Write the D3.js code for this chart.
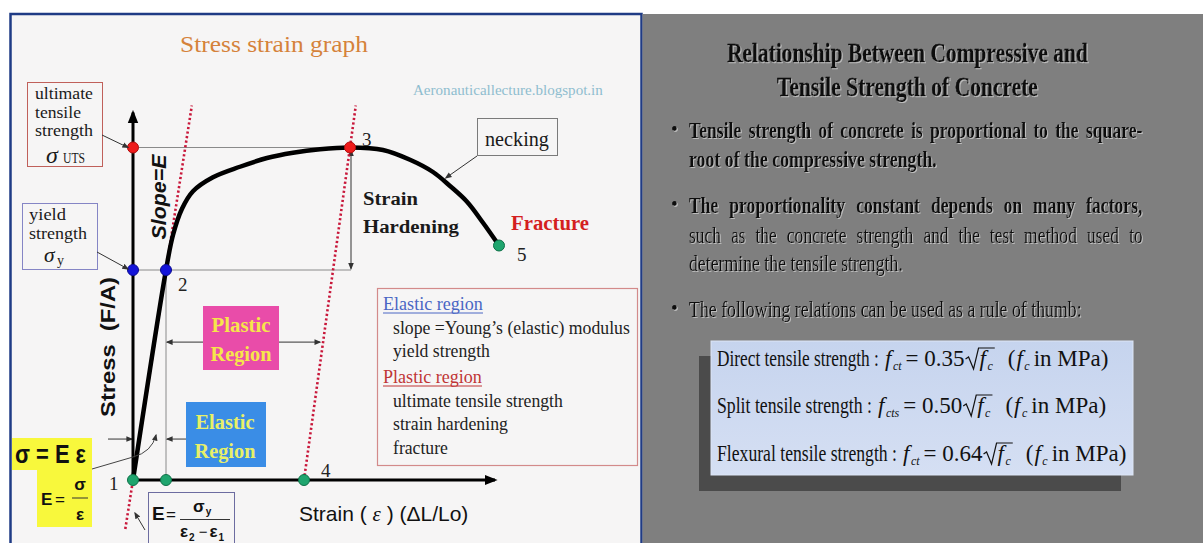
<!DOCTYPE html>
<html>
<head>
<meta charset="utf-8">
<script src="https://cdn.jsdelivr.net/npm/d3@7"></script>
<style>
  body { margin: 0; background: #fff; }
  svg { display: block; }
</style>
</head>
<body>
<div id="chart"></div>
<script>
// ---- data (strain / stress in chart units) ----
var curveStrain = [0, 8.25, 10, 12.25, 15, 20, 26.75, 33.5, 40, 46.75, 54.25, 62.5, 69.25, 75, 79.25, 83.5, 87.5, 91.5];
var curveStress = [0, 60, 70, 77.5, 82.5, 86.5, 89.5, 92, 93.5, 94.5, 95, 94.3, 91.5, 88, 84, 79.5, 73.5, 67];

var pointNames  = ['1', '2', '3', '4', '5'];
var pointStrain = [0, 8.25, 54.25, 42.75, 91.5];
var pointStress = [0, 60, 95, 0, 67];

var infoLines = ['Elastic region', 'slope =Young\u2019s (elastic) modulus', 'yield strength',
                 'Plastic region', 'ultimate tensile strength', 'strain hardening', 'fracture'];

var titleLines = ['Relationship Between Compressive and', 'Tensile Strength of Concrete'];
var bulletText = [
  'Tensile strength of concrete is proportional to the square-',
  'root of the compressive strength.',
  'The proportionality constant depends on many factors,',
  'such as the concrete strength and the test method used to',
  'determine the tensile strength.',
  'The following relations can be used as a rule of thumb:'
];
var formulaNames = ['Direct tensile strength', 'Split tensile strength', 'Flexural tensile strength'];
var formulaSubs  = ['ct', 'cts', 'ct'];
var formulaCoefs = ['0.35', '0.50', '0.64'];

// ---- setup ----
var W = 1203, H = 543;
var serif = '"Liberation Serif", "Times New Roman", serif';
var sans = '"Liberation Sans", Arial, sans-serif';

var svg = d3.select('#chart').append('svg')
    .attr('width', W)
    .attr('height', H);

var defs = svg.append('defs');
function marker(id, size, color) {
  defs.append('marker')
      .attr('id', id)
      .attr('viewBox', '0 0 10 10')
      .attr('refX', 8).attr('refY', 5)
      .attr('markerWidth', size).attr('markerHeight', size)
      .attr('markerUnits', 'userSpaceOnUse')
      .attr('orient', 'auto-start-reverse')
    .append('path')
      .attr('d', 'M0,1 L10,5 L0,9 Z')
      .attr('fill', color);
}
marker('axisHead', 13, '#000');
marker('head', 7, '#333');

var emboss = defs.append('filter').attr('id', 'emboss')
    .attr('x', '-5%').attr('y', '-30%').attr('width', '110%').attr('height', '160%');
emboss.append('feDropShadow').attr('dx', 1).attr('dy', 1).attr('stdDeviation', 0.5)
    .attr('flood-color', '#c4c4c4').attr('flood-opacity', 0.9);

var grad = defs.append('linearGradient').attr('id', 'boxFill').attr('x1', 0).attr('y1', 0).attr('x2', 0).attr('y2', 1);
grad.append('stop').attr('offset', '0%').attr('stop-color', '#c6d4ee');
grad.append('stop').attr('offset', '100%').attr('stop-color', '#d5dff3');

var probe = svg.append('text').attr('visibility', 'hidden');
function measure(s, size, weight, style, family) {
  probe.attr('font-family', family || serif).attr('font-size', size)
      .attr('font-weight', weight || 'normal').attr('font-style', style || 'normal').text(s);
  return probe.node().getComputedTextLength();
}

// text helper; o.w squeezes the text horizontally to that width
function label(g, s, px, py, o) {
  o = o || {};
  var host = g, tx = px, ty = py;
  if (o.transform) host = host.append('g').attr('transform', o.transform);
  if (o.w) {
    var nat = measure(s, o.size || 18, o.weight, o.style, o.family);
    host = host.append('g').attr('transform', 'translate(' + px + ',' + py + ') scale(' + (o.w / nat) + ',1)');
    tx = 0; ty = 0;
  }
  var t = host.append('text')
      .attr('x', tx).attr('y', ty)
      .attr('font-family', o.family || serif)
      .attr('font-size', o.size || 18)
      .attr('font-weight', o.weight || 'normal')
      .attr('font-style', o.style || 'normal')
      .attr('fill', o.fill || '#1a1a1a')
      .attr('text-anchor', o.anchor || 'start')
      .text(s);
  if (o.stroke) t.attr('stroke', o.fill || '#1a1a1a').attr('stroke-width', o.stroke);
  return t;
}

function arrow(g, pts, o) {
  o = o || {};
  var p = g.append('path')
      .attr('d', d3.line()(pts))
      .attr('fill', 'none')
      .attr('stroke', o.stroke || '#333')
      .attr('stroke-width', o.width || 1);
  if (o.end !== false) p.attr('marker-end', 'url(#' + (o.head || 'head') + ')');
  if (o.start) p.attr('marker-start', 'url(#' + (o.head || 'head') + ')');
  return p;
}

// ---- panels ----
svg.append('rect')
    .attr('x', 10.5).attr('y', 14).attr('width', 631).attr('height', 540)
    .attr('fill', '#f6f5f5').attr('stroke', '#1f3b85').attr('stroke-width', 2.5);
svg.append('rect')
    .attr('x', 642.5).attr('y', 14).attr('width', 561).attr('height', 530)
    .attr('fill', '#7f7f7f');

// ---- left: stress strain graph ----
var left = svg.append('g');
var x = d3.scaleLinear().domain([0, 100]).range([133, 533]);
var y = d3.scaleLinear().domain([0, 100]).range([480, 130]);
var axisMaxStrain = 90.5, axisMaxStress = 105;
var E1 = pointStress[1] / pointStrain[1];                                   // slope through 1-2
var E2 = (pointStress[2] - pointStress[3]) / (pointStrain[2] - pointStrain[3]); // line through 4-3

label(left, 'Stress strain graph', 274, 52, {size: 23, fill: '#d5823a', anchor: 'middle', w: 188});
label(left, 'Aeronauticallecture.blogspot.in', 413, 95, {size: 14, fill: '#8fbdcf', w: 190});

// guide lines
var guides = left.append('g').attr('stroke', '#8a8a8a').attr('stroke-width', 1);
guides.append('line').attr('x1', x(0)).attr('x2', x(pointStrain[2])).attr('y1', y(pointStress[2])).attr('y2', y(pointStress[2]));
guides.append('line').attr('x1', x(0)).attr('x2', x(54.5)).attr('y1', y(pointStress[1])).attr('y2', y(pointStress[1]));
guides.append('line').attr('x1', x(pointStrain[1])).attr('x2', x(pointStrain[1])).attr('y1', y(0)).attr('y2', y(pointStress[1]));

// strain hardening double arrow
arrow(left, [[x(54.5), y(94.2)], [x(54.5), y(60.4)]], {start: true});

// plastic region arrow
var plasticStress = 39.4;
arrow(left, [[x(pointStrain[1]) + 1, y(plasticStress)],
             [x(pointStrain[3] + plasticStress / E2) - 3, y(plasticStress)]], {start: true});

// elastic region arrows
var elasticStress = 11.7;
arrow(left, [[108, y(elasticStress)], [x(0) - 1, y(elasticStress)]]);
arrow(left, [[190, y(elasticStress)], [x(pointStrain[1]) + 1, y(elasticStress)]]);

// dotted offset lines
var dotted = left.append('g').attr('stroke', '#c8173a').attr('stroke-width', 2.6)
    .attr('stroke-dasharray', '2.2 2.4').attr('fill', 'none');
dotted.append('line')
    .attr('x1', x(-14 / E1)).attr('y1', y(-14))
    .attr('x2', x(107 / E1)).attr('y2', y(107));
dotted.append('line')
    .attr('x1', x(pointStrain[3])).attr('y1', y(0))
    .attr('x2', x(pointStrain[3] + 107 / E2)).attr('y2', y(107));

// axes
arrow(left, [[x(0), y(0)], [x(0), y(axisMaxStress)]], {stroke: '#000', width: 3, head: 'axisHead'});
arrow(left, [[x(0), y(0)], [x(axisMaxStrain), y(0)]], {stroke: '#000', width: 3, head: 'axisHead'});

// curve
var line = d3.line()
    .x(function(d) { return x(d[0]); })
    .y(function(d) { return y(d[1]); })
    .curve(d3.curveCatmullRom.alpha(0.5));
left.append('path')
    .datum(d3.zip(curveStrain, curveStress))
    .attr('d', line)
    .attr('fill', 'none')
    .attr('stroke', '#000')
    .attr('stroke-width', 4.5)
    .attr('stroke-linecap', 'round');

// points
var dotColor = {'1': '#1fa56e', '2': '#1414d9', '3': '#ee1b1b', '4': '#1fa56e', '5': '#1fa56e'};
var dotStroke = {'1': '#0f7048', '2': '#0a0a90', '3': '#b01010', '4': '#0f7048', '5': '#0f7048'};
var numOffset = {'1': [-24, 10], '2': [12, 21], '3': [12, -2], '4': [17, -3], '5': [18, 15]};
var dots = pointNames.map(function(n, i) { return {n: n, sx: pointStrain[i], sy: pointStress[i]}; });
var projected = [
  {n: '2', sx: 0, sy: pointStress[1]},
  {n: '3', sx: 0, sy: pointStress[2]},
  {n: '1', sx: pointStrain[1], sy: 0}
];
left.append('g').selectAll('circle')
    .data(projected.concat(dots))
    .enter().append('circle')
      .attr('cx', function(d) { return x(d.sx); })
      .attr('cy', function(d) { return y(d.sy); })
      .attr('r', 5.5)
      .attr('fill', function(d) { return dotColor[d.n]; })
      .attr('stroke', function(d) { return dotStroke[d.n]; })
      .attr('stroke-width', 1);
left.append('g').selectAll('text')
    .data(dots)
    .enter().append('text')
      .attr('x', function(d) { return x(d.sx) + numOffset[d.n][0]; })
      .attr('y', function(d) { return y(d.sy) + numOffset[d.n][1]; })
      .attr('font-family', serif)
      .attr('font-size', 19)
      .attr('fill', '#222')
      .text(function(d) { return d.n; });

// axis titles
label(left, 'Stress\u00a0\u00a0(F/A)', 115, 347, {family: sans, size: 20, weight: 'bold', anchor: 'middle', w: 140, transform: 'rotate(-90,115,347)', fill: '#111'});
label(left, 'Slope=E', 166, 197, {family: sans, size: 20, weight: 'bold', style: 'italic', anchor: 'middle', w: 85, transform: 'rotate(-90,166,197)', fill: '#111'});
var xt = left.append('text').attr('x', 299).attr('y', 521)
    .attr('font-family', sans).attr('font-size', 21).attr('fill', '#111');
xt.append('tspan').text('Strain (\u00a0');
xt.append('tspan').attr('font-family', serif).attr('font-style', 'italic').text('\u03b5');
xt.append('tspan').text('\u00a0) (\u0394L/Lo)');

// ultimate tensile strength box
left.append('rect').attr('x', 27.5).attr('y', 82.5).attr('width', 75).attr('height', 84)
    .attr('fill', 'none').attr('stroke', '#c0605a').attr('stroke-width', 1);
label(left, 'ultimate', 35, 99, {size: 17, w: 58});
label(left, 'tensile', 35, 118, {size: 17, w: 46});
label(left, 'strength', 35, 136, {size: 17, w: 58});
label(left, '\u03c3', 46, 163, {size: 24, style: 'italic'});
label(left, 'UTS', 63, 163, {size: 15, w: 22});
arrow(left, [[102, 135], [x(0) - 5, y(pointStress[2])]]);

// yield strength box
left.append('rect').attr('x', 22.5).attr('y', 203.5).attr('width', 75).attr('height', 66)
    .attr('fill', 'none').attr('stroke', '#8585c5').attr('stroke-width', 1);
label(left, 'yield', 29, 220, {size: 17, w: 37});
label(left, 'strength', 29, 239, {size: 17, w: 58});
label(left, '\u03c3', 44, 262, {size: 21.5, style: 'italic'});
label(left, 'y', 57, 265, {size: 14});
arrow(left, [[97, 252], [x(0) - 5, y(pointStress[1]) - 1]]);

// necking
left.append('rect').attr('x', 477.5).attr('y', 118.5).attr('width', 80).attr('height', 37)
    .attr('fill', 'none').attr('stroke', '#7a7a7a').attr('stroke-width', 1);
label(left, 'necking', 485, 146, {size: 20, w: 64});
arrow(left, [[477, 156], [x(78.2), y(86.3)]]);

label(left, 'Strain', 363, 205, {size: 19, weight: 'bold', w: 55});
label(left, 'Hardening', 363, 233, {size: 19, weight: 'bold', w: 96});
label(left, 'Fracture', 511, 230, {size: 20, weight: 'bold', fill: '#d41f1f', w: 78});

// region boxes
left.append('rect').attr('x', 203).attr('y', 306).attr('width', 76).attr('height', 64).attr('fill', '#e94ca9');
label(left, 'Plastic', 241, 332, {size: 20, weight: 'bold', fill: '#f6e64a', anchor: 'middle', w: 59});
label(left, 'Region', 241, 361, {size: 20, weight: 'bold', fill: '#f6e64a', anchor: 'middle', w: 61});
left.append('rect').attr('x', 186).attr('y', 402).attr('width', 80).attr('height', 65).attr('fill', '#3a8de6');
label(left, 'Elastic', 225, 429, {size: 20, weight: 'bold', fill: '#e8f068', anchor: 'middle', w: 59});
label(left, 'Region', 225, 458, {size: 20, weight: 'bold', fill: '#e8f068', anchor: 'middle', w: 61});

// info box
left.append('rect').attr('x', 377.5).attr('y', 288.5).attr('width', 260).attr('height', 177)
    .attr('fill', 'none').attr('stroke', '#d38a8a').attr('stroke-width', 1.2);
var infoX = [383, 393, 393, 383, 393, 393, 393];
var infoY = [310, 334, 357, 383, 407, 430, 454];
var infoW = [100, 237, 97, 99, 170, 115, 55];
var infoFill = ['#4a66c4', '#222', '#222', '#c03535', '#222', '#222', '#222'];
infoLines.forEach(function(s, i) {
  label(left, s, infoX[i], infoY[i], {size: 18, w: infoW[i], fill: infoFill[i]});
  if (i === 0 || i === 3) {
    left.append('line').attr('x1', infoX[i]).attr('x2', infoX[i] + infoW[i])
        .attr('y1', infoY[i] + 3).attr('y2', infoY[i] + 3)
        .attr('stroke', infoFill[i]).attr('stroke-width', 1);
  }
});

// yellow formula box
var yel = left.append('g');
yel.append('rect').attr('x', 12).attr('y', 438).attr('width', 80).attr('height', 32).attr('fill', '#f8f83c');
yel.append('rect').attr('x', 37).attr('y', 469).attr('width', 55).attr('height', 58).attr('fill', '#f8f83c');
label(yel, '\u03c3 = E \u03b5', 15, 463, {family: sans, size: 25, weight: 'bold', w: 71, fill: '#111'});
label(yel, 'E', 41, 505, {family: sans, size: 17, weight: 'bold', fill: '#111'});
label(yel, '=', 55, 505, {family: sans, size: 17, fill: '#111'});
label(yel, '\u03c3', 80, 490, {family: sans, size: 17, weight: 'bold', anchor: 'middle', fill: '#111'});
yel.append('line').attr('x1', 72).attr('x2', 88).attr('y1', 498).attr('y2', 498).attr('stroke', '#333').attr('stroke-width', 1);
label(yel, '\u03b5', 80, 520, {family: sans, size: 17, weight: 'bold', anchor: 'middle', fill: '#111'});
left.append('path')
    .attr('d', 'M92,469 L' + x(0) + ',457 Q152,452 156,435')
    .attr('fill', 'none').attr('stroke', '#444').attr('stroke-width', 1)
    .attr('marker-end', 'url(#head)');

// E = sigma_y / (e2 - e1) box
var eb = left.append('g');
eb.append('rect').attr('x', 148.5).attr('y', 492.5).attr('width', 86).attr('height', 60)
    .attr('fill', 'none').attr('stroke', '#6c6ca0').attr('stroke-width', 1);
label(eb, 'E', 152, 520, {family: sans, size: 19, weight: 'bold', fill: '#111'});
label(eb, '=', 166, 520, {family: sans, size: 17, fill: '#111'});
var num = eb.append('text').attr('x', 193).attr('y', 512).attr('font-family', sans)
    .attr('font-weight', 'bold').attr('font-size', 17).attr('fill', '#111');
num.append('tspan').text('\u03c3');
num.append('tspan').attr('font-size', 10).attr('dy', 3).attr('dx', 1).text('y');
eb.append('line').attr('x1', 180).attr('x2', 230).attr('y1', 519.5).attr('y2', 519.5).attr('stroke', '#333').attr('stroke-width', 1);
var den = eb.append('text').attr('x', 180).attr('y', 537).attr('font-family', sans)
    .attr('font-weight', 'bold').attr('font-size', 17).attr('fill', '#111');
den.append('tspan').text('\u03b5');
den.append('tspan').attr('font-size', 10).attr('dy', 4).attr('dx', 1).text('2');
den.append('tspan').attr('font-weight', 'normal').attr('font-size', 15).attr('dy', -4).attr('dx', 4).text('\u2212');
den.append('tspan').attr('dx', 2).text('\u03b5');
den.append('tspan').attr('font-size', 10).attr('dy', 4).attr('dx', 1).text('1');
arrow(left, [[145, 530], [x(0) + 2, 513]]);

// ---- right: relationship text ----
var right = svg.append('g').attr('filter', 'url(#emboss)');
label(right, titleLines[0], 907.5, 62, {size: 27, weight: 'bold', anchor: 'middle', w: 361, fill: '#0a0a0a', stroke: 0.3});
label(right, titleLines[1], 907.5, 96, {size: 27, weight: 'bold', anchor: 'middle', w: 261, fill: '#0a0a0a', stroke: 0.3});

var bx0 = 689, bx1 = 1143, bSize = 22.5;
var bBase = [138, 167, 213, 243, 271, 317];
var bBold = [true, true, true, false, false, false];
var bJust = [true, false, true, true, false, false];
var bFit = [null, 248, null, null, 214, 393];
var bBullet = [true, false, true, false, false, true];

var kBold = bFit[1] / measure(bulletText[1], bSize, 'bold');
var kNorm = (bFit[4] + bFit[5]) / (measure(bulletText[4], bSize) + measure(bulletText[5], bSize));

bulletText.forEach(function(s, i) {
  var wt = bBold[i] ? 'bold' : 'normal';
  if (bBullet[i]) label(right, '\u2022', 671, bBase[i] - 2, {size: 20, fill: '#0a0a0a'});
  if (!bJust[i]) {
    label(right, s, bx0, bBase[i], {size: bSize, weight: wt, w: bFit[i], fill: '#0a0a0a'});
    return;
  }
  var k = bBold[i] ? kBold : kNorm;
  var words = s.split(' ');
  var ws = words.map(function(w) { return measure(w, bSize, wt) * k; });
  var gap = (bx1 - bx0 - d3.sum(ws)) / (words.length - 1);
  var cx = bx0;
  words.forEach(function(w, j) {
    label(right, w, cx, bBase[i], {size: bSize, weight: wt, w: ws[j] - 0.5, fill: '#0a0a0a'});
    cx += ws[j] + gap;
  });
});

// formula box
var fb = svg.append('g');
fb.append('rect').attr('x', 699).attr('y', 356).attr('width', 422).attr('height', 135).attr('fill', '#4b4b4b');
fb.append('rect').attr('x', 711).attr('y', 341).attr('width', 422).attr('height', 134)
    .attr('fill', 'url(#boxFill)').attr('stroke', '#dde6f6').attr('stroke-width', 1);

var fBase = [366, 413, 461];
var fNameW = [162, 155, 180];
var fSize = 23;
formulaNames.forEach(function(name, i) {
  label(fb, name + ' :', 717, fBase[i], {size: fSize, w: fNameW[i], fill: '#111'});

  var t = fb.append('text')
      .attr('x', 717 + fNameW[i] + 6).attr('y', fBase[i])
      .attr('font-family', serif).attr('font-size', fSize).attr('fill', '#111');
  t.append('tspan').attr('font-style', 'italic').text('f');
  t.append('tspan').attr('font-style', 'italic').attr('font-size', 12).attr('dy', 4).attr('dx', 1.5).text(formulaSubs[i]);
  t.append('tspan').attr('dy', -4).attr('dx', 4).text('=\u00a0' + formulaCoefs[i]);
  t.append('tspan').attr('font-style', 'italic').attr('dx', 15).text('f');
  t.append('tspan').attr('font-style', 'italic').attr('font-size', 12).attr('dy', 4).attr('dx', 1.5).text('c');
  t.append('tspan').attr('dy', -4).attr('dx', 15).text('(');
  t.append('tspan').attr('font-style', 'italic').attr('dx', 1).text('f');
  t.append('tspan').attr('font-style', 'italic').attr('font-size', 12).attr('dy', 4).attr('dx', 1.5).text('c');
  t.append('tspan').attr('dy', -4).attr('dx', 4).text('in MPa)');

  // radical sign over f_c
  var fIdx = 1 + formulaSubs[i].length + 2 + formulaCoefs[i].length;
  var node = t.node();
  var rs = node.getStartPositionOfChar(fIdx).x - 14;
  var re = node.getEndPositionOfChar(fIdx + 1).x + 2;
  var yb = fBase[i];
  fb.append('path')
      .attr('d', 'M' + rs + ',' + (yb - 7) + ' L' + (rs + 3) + ',' + (yb - 9) + ' L' + (rs + 8) + ',' + (yb + 3) +
            ' L' + (rs + 13) + ',' + (yb - 18) + ' L' + re + ',' + (yb - 18))
      .attr('fill', 'none').attr('stroke', '#111').attr('stroke-width', 1.2);
});
</script>
</body>
</html>
